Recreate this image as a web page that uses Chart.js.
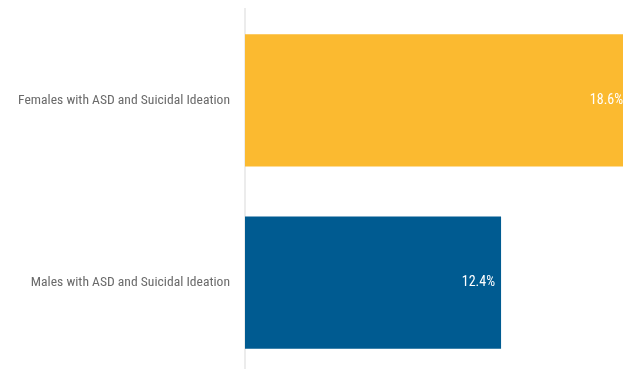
<!DOCTYPE html>
<html>
<head>
<meta charset="utf-8">
<script src="https://cdn.jsdelivr.net/npm/chart.js@4"></script>
<style>
html,body{margin:0;padding:0;overflow:hidden;background:#fff;width:623px;height:369px;}
#c{position:absolute;left:0;top:-14px;}
</style>
</head>
<body>
<canvas id="c" width="658" height="411"></canvas>
<script>
const categories = ["Females with ASD and Suicidal Ideation", "Males with ASD and Suicidal Ideation"];
const values = [18.6, 12.4];
const barColors = ["#FBBA30", "#005B91"];
const valueLabels = ["18.6%", "12.4%"];

const FONT = "'Liberation Sans Narrow', 'Roboto Condensed', 'Arial Narrow', sans-serif";

const labelPlugin = {
  id: 'valLabels',
  afterDatasetsDraw(chart) {
    const ctx = chart.ctx;
    const meta = chart.getDatasetMeta(0);
    ctx.save();
    ctx.font = "14px " + FONT;
    ctx.fillStyle = "#ffffff";
    ctx.textAlign = "right";
    ctx.textBaseline = "middle";
    meta.data.forEach((bar, i) => {
      ctx.fillText(valueLabels[i], bar.x - 6, bar.y);
    });
    ctx.restore();
  }
};

new Chart(document.getElementById('c'), {
  type: 'bar',
  data: {
    labels: categories,
    datasets: [{
      data: values,
      backgroundColor: barColors,
      borderWidth: 0,
      barPercentage: 0.725,
      categoryPercentage: 1
    }]
  },
  options: {
    indexAxis: 'y',
    responsive: false,
    maintainAspectRatio: false,
    animation: false,
    devicePixelRatio: 1,
    layout: { padding: { top: 8, right: 0, bottom: 0, left: 0 } },
    plugins: { legend: { display: false }, tooltip: { enabled: false } },
    scales: {
      x: {
        min: 0, max: 20,
        display: false,
        grid: { display: false }
      },
      y: {
        grid: { display: false, drawTicks: false },
        border: { display: true, color: '#ececec', width: 2 },
        ticks: { color: '#6a6a6a', font: { family: FONT, size: 13.6 }, padding: 15 },
        afterFit(scale) { scale.width = 245; }
      }
    }
  },
  plugins: [labelPlugin]
});
</script>
</body>
</html>
